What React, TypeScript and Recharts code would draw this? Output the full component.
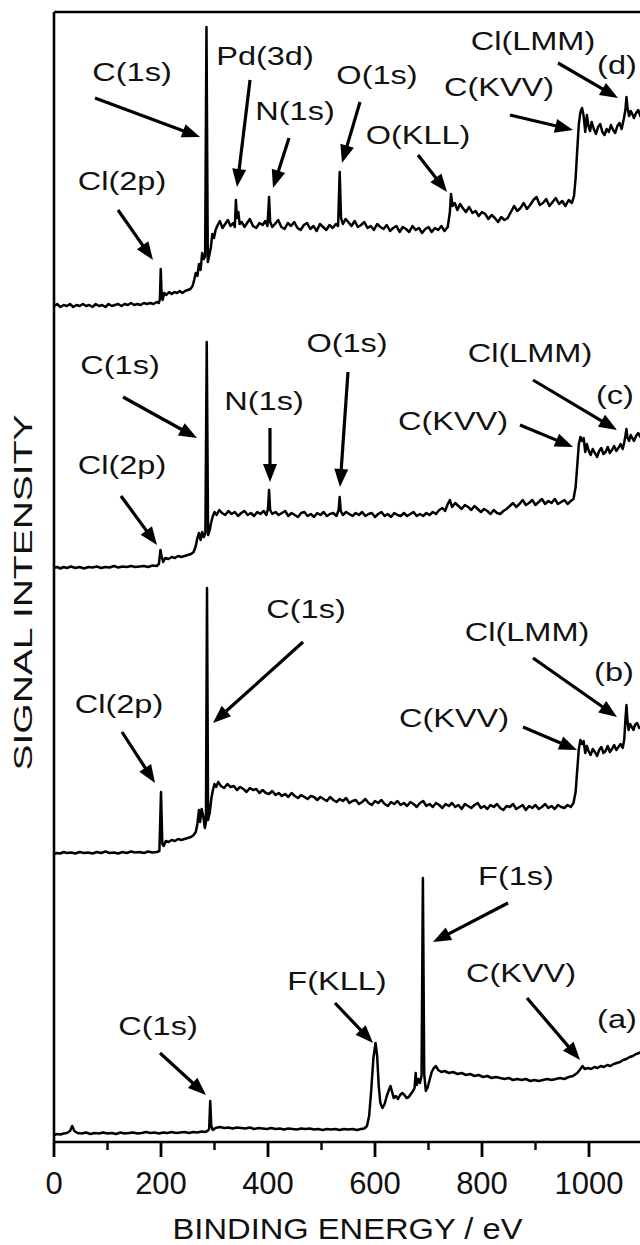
import { LineChart, Line, XAxis, YAxis, ReferenceLine, ReferenceDot, Label } from 'recharts';

// survey spectra, [binding energy (eV), signal]; each trace already carries its stacking offset
const traceA: [number, number][] = [
  [0, 0.7], [6, 0.8], [12, 0.75], [18, 0.85], [24, 0.9], [30, 1.1], [34, 1.6], [38, 1.1], [44, 0.9], [52, 0.85],
  [60, 0.95], [68, 0.8], [76, 0.9], [84, 0.85], [92, 0.95], [100, 0.85], [108, 0.9], [116, 0.8], [124, 0.95], [132, 0.85],
  [140, 0.9], [148, 0.95], [156, 0.85], [164, 0.9], [172, 1.0], [180, 0.9], [188, 0.95], [196, 0.85], [204, 0.95], [212, 0.9],
  [220, 1.0], [228, 0.9], [236, 0.95], [244, 1.0], [252, 0.9], [260, 1.0], [268, 0.95], [276, 1.05], [282, 1.0], [287, 1.1],
  [290, 1.3], [292, 4.1], [294, 1.6], [297, 1.2], [302, 1.4], [310, 1.5], [318, 1.4], [326, 1.45], [334, 1.35], [342, 1.45],
  [350, 1.4], [358, 1.35], [366, 1.45], [374, 1.3], [382, 1.4], [390, 1.35], [398, 1.3], [406, 1.4], [414, 1.3], [422, 1.35],
  [430, 1.25], [438, 1.35], [446, 1.3], [454, 1.25], [462, 1.35], [470, 1.3], [478, 1.35], [486, 1.25], [494, 1.3], [502, 1.2],
  [510, 1.3], [518, 1.25], [526, 1.3], [534, 1.2], [542, 1.3], [550, 1.25], [558, 1.3], [566, 1.2], [574, 1.3], [580, 1.35],
  [585, 1.6], [589, 2.6], [593, 5.2], [597, 8.4], [601, 9.9], [604, 8.6], [607, 5.6], [610, 3.9], [614, 3.4], [618, 3.8],
  [622, 4.6], [626, 5.2], [629, 5.6], [632, 5.0], [635, 4.4], [639, 4.6], [643, 4.3], [647, 4.7], [651, 4.9], [655, 4.7],
  [659, 4.4], [663, 4.5], [667, 4.8], [671, 5.1], [674, 5.4], [676, 6.9], [678, 5.7], [681, 6.3], [684, 5.9], [687, 6.6],
  [689.5, 26.4], [692, 6.8], [695, 5.1], [698, 5.4], [702, 6.2], [706, 7.0], [710, 7.4], [714, 7.6], [718, 7.2], [724, 7.0],
  [730, 7.1], [738, 6.9], [746, 7.0], [754, 6.8], [762, 6.9], [770, 6.7], [778, 6.8], [786, 6.6], [794, 6.7], [802, 6.5],
  [810, 6.6], [818, 6.4], [826, 6.5], [834, 6.4], [842, 6.3], [850, 6.4], [858, 6.2], [866, 6.3], [874, 6.2], [882, 6.3],
  [890, 6.1], [898, 6.2], [906, 6.1], [914, 6.2], [922, 6.3], [930, 6.2], [938, 6.3], [946, 6.4], [954, 6.3], [962, 6.5],
  [970, 6.6], [978, 6.9], [984, 7.3], [988, 7.6], [992, 7.3], [998, 7.4], [1004, 7.3], [1010, 7.5], [1016, 7.4], [1022, 7.6],
  [1028, 7.5], [1034, 7.7], [1040, 7.6], [1046, 7.8], [1052, 7.9], [1058, 8.0], [1064, 8.2], [1070, 8.3], [1076, 8.5], [1082, 8.6],
  [1088, 8.8], [1094, 8.9], [1100, 9.1],
];

const traceB: [number, number][] = [
  [0, 28.8], [6, 28.9], [12, 28.85], [18, 29.0], [24, 28.9], [32, 28.95], [40, 28.85], [48, 29.0], [56, 28.9], [64, 28.95],
  [72, 28.85], [80, 29.0], [88, 28.9], [96, 29.05], [104, 28.9], [112, 28.95], [120, 28.85], [128, 29.0], [136, 28.9], [144, 29.05],
  [152, 28.95], [160, 29.0], [168, 28.9], [176, 29.05], [184, 28.95], [192, 29.0], [197, 29.1], [200, 35.0], [202.5, 29.8], [205, 29.6],
  [209, 30.1], [214, 30.0], [220, 30.2], [226, 30.1], [232, 30.3], [238, 30.2], [244, 30.3], [250, 30.4], [256, 30.5], [261, 30.7],
  [265, 31.0], [268, 31.8], [271, 33.2], [273, 32.0], [276, 33.3], [279, 32.6], [282, 31.4], [284, 32.0], [286, 55.4], [288, 32.2],
  [291, 32.9], [294, 34.3], [297, 35.2], [300, 35.8], [303, 35.5], [307, 36.0], [312, 35.6], [318, 35.4], [324, 35.8], [330, 35.5],
  [336, 35.6], [342, 35.2], [348, 35.5], [354, 35.3], [360, 35.0], [366, 35.4], [372, 35.2], [378, 35.3], [384, 34.9], [390, 35.2],
  [396, 34.9], [402, 34.8], [408, 35.1], [414, 34.7], [420, 34.9], [426, 34.6], [432, 34.8], [438, 34.5], [444, 34.9], [450, 34.6],
  [456, 34.4], [462, 34.7], [468, 34.5], [474, 34.3], [480, 34.6], [486, 34.5], [492, 34.2], [498, 34.5], [504, 34.3], [510, 34.1],
  [516, 34.5], [522, 34.2], [528, 34.0], [534, 34.3], [540, 34.1], [546, 34.4], [552, 33.9], [558, 34.1], [564, 34.2], [570, 33.8],
  [576, 34.0], [582, 34.3], [588, 33.9], [594, 33.7], [600, 34.1], [606, 33.9], [612, 34.2], [618, 33.8], [624, 33.6], [630, 34.0],
  [636, 33.8], [642, 34.1], [648, 33.7], [654, 33.9], [660, 33.6], [666, 34.0], [672, 33.8], [678, 33.5], [684, 33.9], [690, 34.1],
  [696, 33.6], [702, 33.8], [708, 33.5], [714, 33.9], [720, 33.7], [726, 33.4], [732, 33.8], [738, 33.6], [744, 33.9], [750, 33.5],
  [756, 33.7], [762, 33.3], [768, 33.8], [774, 33.6], [780, 33.4], [786, 33.7], [792, 33.9], [798, 33.4], [804, 33.6], [810, 33.3],
  [816, 33.7], [822, 33.5], [828, 33.8], [834, 33.4], [840, 33.2], [846, 33.6], [852, 33.5], [858, 33.8], [864, 33.3], [870, 33.5],
  [876, 33.7], [882, 33.2], [888, 33.6], [894, 33.4], [900, 33.7], [906, 33.3], [912, 33.5], [918, 33.8], [924, 33.4], [930, 33.6],
  [936, 33.3], [942, 33.7], [948, 33.5], [954, 33.4], [960, 33.7], [966, 33.5], [971, 33.9], [975, 35.0], [978, 37.2], [981, 39.3],
  [984, 40.2], [987, 39.8], [990, 40.1], [993, 38.9], [996, 39.6], [999, 39.1], [1003, 38.7], [1007, 39.3], [1011, 39.0], [1015, 38.6],
  [1019, 39.2], [1023, 39.5], [1027, 38.9], [1031, 39.1], [1035, 39.6], [1039, 39.0], [1043, 39.3], [1047, 39.7], [1051, 39.2], [1055, 39.5],
  [1059, 39.8], [1063, 39.4], [1066, 40.3], [1068, 42.2], [1070, 43.7], [1072, 42.0], [1074, 41.2], [1077, 41.8], [1080, 41.5], [1083, 41.2],
  [1086, 41.7], [1090, 41.9], [1094, 41.4], [1100, 41.7],
];

const traceC: [number, number][] = [
  [0, 57.4], [6, 57.5], [12, 57.35], [18, 57.5], [24, 57.4], [32, 57.55], [40, 57.4], [48, 57.5], [56, 57.35], [64, 57.5],
  [72, 57.45], [80, 57.55], [88, 57.4], [96, 57.5], [104, 57.45], [112, 57.6], [120, 57.45], [128, 57.55], [136, 57.5], [144, 57.6],
  [152, 57.5], [160, 57.55], [168, 57.6], [176, 57.5], [184, 57.65], [192, 57.6], [196, 57.8], [199, 59.2], [201, 58.6], [204, 58.0],
  [208, 58.4], [214, 58.3], [220, 58.5], [226, 58.4], [232, 58.6], [238, 58.5], [244, 58.6], [250, 58.7], [256, 58.8], [261, 59.0],
  [265, 59.6], [268, 60.4], [271, 60.9], [274, 60.2], [277, 61.0], [280, 60.5], [283, 60.9], [285.5, 80.0], [288, 60.7], [291, 61.2],
  [294, 62.0], [297, 62.6], [300, 63.0], [304, 62.7], [309, 63.2], [314, 62.9], [320, 62.7], [326, 63.1], [332, 62.8], [338, 63.0],
  [344, 62.6], [350, 62.9], [356, 63.1], [362, 62.7], [368, 62.9], [374, 62.6], [380, 63.0], [386, 62.8], [392, 63.1], [397, 62.7],
  [400, 63.3], [402, 65.2], [404, 63.2], [408, 62.8], [414, 63.0], [420, 62.7], [426, 62.9], [432, 63.1], [438, 62.6], [444, 62.9],
  [450, 62.7], [456, 62.5], [462, 62.9], [468, 63.0], [474, 62.6], [480, 62.8], [486, 62.5], [492, 62.9], [498, 62.7], [504, 63.0],
  [510, 62.6], [516, 62.8], [522, 62.9], [528, 62.6], [532, 63.2], [534, 64.5], [536, 63.1], [540, 62.7], [546, 63.0], [552, 62.8],
  [558, 62.6], [564, 62.9], [570, 62.7], [576, 63.0], [582, 62.6], [588, 62.8], [594, 62.9], [600, 62.5], [606, 62.8], [612, 63.0],
  [618, 62.6], [624, 62.8], [630, 62.5], [636, 62.9], [642, 62.7], [648, 62.6], [654, 62.9], [660, 62.6], [666, 62.8], [672, 63.0],
  [678, 62.6], [684, 62.8], [690, 62.6], [696, 62.9], [702, 62.7], [708, 63.0], [714, 62.8], [720, 63.2], [726, 63.4], [731, 63.1],
  [736, 63.8], [740, 64.2], [744, 63.5], [750, 63.9], [756, 63.6], [762, 63.3], [768, 63.7], [774, 63.5], [780, 63.2], [786, 63.6],
  [792, 63.3], [798, 63.0], [804, 63.3], [810, 63.1], [816, 62.8], [822, 63.2], [828, 62.9], [834, 62.8], [840, 63.1], [846, 63.3],
  [852, 63.6], [858, 63.9], [864, 63.5], [870, 63.8], [876, 64.2], [882, 63.7], [888, 63.9], [894, 64.2], [900, 63.7], [906, 64.0],
  [912, 64.3], [918, 63.8], [924, 64.1], [930, 63.9], [936, 64.3], [942, 63.8], [948, 64.0], [954, 64.2], [960, 63.8], [966, 64.1],
  [971, 64.3], [975, 65.5], [978, 67.6], [981, 69.8], [984, 70.5], [987, 70.1], [990, 70.4], [993, 69.0], [996, 69.8], [999, 69.2],
  [1003, 68.7], [1007, 69.3], [1011, 68.9], [1015, 68.5], [1019, 69.1], [1023, 69.4], [1027, 68.8], [1031, 69.0], [1035, 69.5], [1039, 68.9],
  [1043, 69.2], [1047, 69.6], [1051, 69.1], [1055, 69.4], [1059, 69.8], [1063, 69.3], [1066, 70.0], [1068, 70.6], [1070, 71.3], [1072, 70.4],
  [1075, 70.1], [1078, 70.7], [1081, 70.4], [1084, 70.1], [1088, 70.6], [1092, 70.9], [1096, 70.5], [1100, 70.9],
];

const traceD: [number, number][] = [
  [0, 83.6], [6, 83.8], [12, 83.5], [18, 83.7], [24, 83.6], [30, 83.8], [36, 83.5], [42, 83.7], [48, 83.6], [54, 83.8],
  [60, 83.6], [66, 83.7], [72, 83.5], [78, 83.8], [84, 83.6], [90, 83.7], [96, 83.5], [102, 83.8], [108, 83.6], [114, 83.7],
  [120, 83.8], [126, 83.6], [132, 83.8], [138, 83.7], [144, 83.9], [150, 83.7], [156, 83.8], [162, 83.7], [168, 83.9], [174, 83.8],
  [180, 83.9], [186, 83.8], [192, 84.0], [196, 83.9], [198, 84.3], [199.5, 87.3], [201, 85.0], [203, 84.2], [206, 84.9], [210, 84.7],
  [215, 85.0], [220, 84.8], [225, 85.0], [230, 84.9], [235, 85.1], [240, 84.9], [245, 85.1], [250, 85.2], [255, 85.3], [259, 85.6],
  [262, 86.2], [265, 86.9], [268, 86.6], [271, 87.8], [274, 87.2], [277, 88.9], [280, 88.3], [282.5, 88.6], [285, 111.5], [287.5, 88.0],
  [290, 88.6], [293, 89.4], [296, 90.8], [299, 90.4], [302, 91.2], [306, 91.7], [310, 92.1], [315, 91.4], [320, 91.8], [325, 92.2],
  [330, 91.6], [335, 91.9], [338, 91.5], [340, 94.2], [342, 92.4], [344.5, 93.0], [347, 91.8], [351, 92.0], [356, 91.5], [361, 91.9],
  [366, 92.3], [372, 91.6], [378, 91.4], [384, 91.9], [390, 91.7], [395, 92.1], [399, 91.6], [402, 94.5], [404, 92.0], [408, 91.5],
  [413, 91.8], [419, 92.2], [425, 91.5], [431, 91.3], [437, 91.9], [443, 91.6], [449, 92.0], [455, 91.4], [461, 91.2], [467, 91.7],
  [473, 91.9], [479, 91.3], [485, 91.6], [491, 91.1], [497, 91.8], [503, 91.5], [509, 91.2], [515, 91.7], [521, 91.4], [527, 91.8],
  [531, 91.6], [534, 97.0], [536.5, 92.4], [540, 91.8], [545, 92.3], [550, 92.0], [556, 91.6], [562, 92.1], [568, 91.5], [574, 91.7],
  [580, 92.0], [586, 91.4], [592, 91.6], [598, 91.2], [604, 91.8], [610, 91.5], [616, 91.3], [622, 91.7], [628, 91.1], [634, 91.4],
  [640, 91.6], [646, 91.0], [652, 91.5], [658, 91.3], [664, 91.0], [670, 91.6], [676, 91.2], [682, 91.4], [688, 90.9], [694, 91.3],
  [700, 91.5], [706, 91.0], [712, 91.4], [718, 91.2], [724, 91.6], [730, 91.1], [736, 91.5], [740, 93.0], [742, 94.8], [745, 93.6],
  [749, 93.9], [754, 93.2], [759, 93.8], [764, 93.4], [770, 93.0], [776, 93.5], [782, 92.9], [788, 93.1], [794, 92.6], [800, 93.0],
  [806, 92.8], [812, 92.3], [818, 92.7], [824, 92.4], [830, 92.0], [836, 92.5], [842, 92.2], [848, 92.4], [854, 93.0], [860, 93.6],
  [866, 93.1], [872, 93.4], [878, 93.9], [884, 93.3], [890, 93.7], [896, 94.2], [902, 94.5], [908, 93.7], [914, 93.9], [920, 94.3],
  [926, 93.6], [932, 94.0], [938, 94.4], [944, 93.8], [950, 94.1], [956, 93.6], [962, 94.2], [968, 93.9], [972, 94.6], [975, 96.4],
  [978, 99.2], [981, 101.8], [984, 103.0], [987, 103.4], [990, 102.6], [993, 101.0], [996, 102.7], [999, 101.6], [1002, 101.1], [1005, 102.0],
  [1009, 101.3], [1013, 100.8], [1017, 101.5], [1021, 101.8], [1025, 101.0], [1029, 100.7], [1033, 101.3], [1037, 101.0], [1041, 101.7], [1045, 101.2],
  [1049, 100.9], [1053, 101.6], [1057, 101.9], [1061, 101.3], [1065, 102.3], [1068, 103.2], [1070, 104.5], [1072, 103.4], [1075, 102.6], [1078, 103.1],
  [1081, 102.8], [1084, 102.4], [1088, 102.9], [1092, 103.2], [1096, 102.6], [1100, 103.0],
];

const energyTicks = [0, 100, 200, 300, 400, 500, 600, 700, 800, 900, 1000];

// peak labels: [text, energy, signal] (centre of the text)
const peakLabels: [string, number, number][] = [
  ['C(1s)', 145.8, 106.8], ['Pd(3d)', 394.4, 108.4], ['N(1s)', 450.5, 102.9], ['O(1s)', 603.7, 106.5],
  ['O(KLL)', 680.4, 100.5], ['C(KVV)', 831.8, 105.3], ['Cl(LMM)', 895.3, 109.9], ['(d)', 1052.3, 107.5],
  ['Cl(2p)', 127.1, 95.9],
  ['C(1s)', 123.4, 77.5], ['Cl(2p)', 127.1, 67.5], ['N(1s)', 392.5, 73.9], ['O(1s)', 547.7, 79.7],
  ['C(KVV)', 745.8, 71.9], ['Cl(LMM)', 889.7, 78.7], ['(c)', 1048.6, 74.5],
  ['Cl(2p)', 121.5, 43.6], ['C(1s)', 471.0, 53.1], ['C(KVV)', 747.7, 42.2], ['Cl(LMM)', 884.1, 50.8], ['(b)', 1046.7, 46.8],
  ['C(1s)', 194.4, 11.4], ['F(KLL)', 529.0, 15.9], ['F(1s)', 863.6, 26.4], ['C(KVV)', 872.9, 16.7], ['(a)', 1052.3, 12.1],
];

// arrows: [energy from, signal from, energy to, signal to]
const arrows: [number, number, number, number][] = [
  [76.6, 104.4, 272.9, 100.5], [366.4, 106.2, 342.1, 95.5], [439.3, 100.4, 409.3, 95.4], [572.0, 104.0, 538.3, 97.9],
  [680.4, 98.7, 734.6, 95.0], [852.3, 102.7, 970.1, 101.2], [942.1, 107.9, 1054.2, 104.4], [119.6, 93.2, 185.0, 88.2],
  [129.0, 74.5, 267.3, 70.4], [125.2, 64.6, 192.5, 59.7], [403.7, 71.4, 403.7, 66.0], [549.5, 77.0, 534.6, 65.5],
  [871.0, 71.7, 970.1, 69.5], [895.3, 76.2, 1052.3, 71.2],
  [127.1, 41.0, 188.8, 35.9], [465.4, 50.0, 297.2, 41.9], [876.6, 41.5, 977.6, 39.2], [895.3, 48.4, 1052.3, 42.5],
  [198.1, 8.9, 284.1, 4.7], [525.2, 13.9, 596.3, 9.9], [848.6, 23.9, 708.4, 20.0], [884.1, 14.4, 983.2, 8.2],
];

const FONT = '"Liberation Sans", Arial, Helvetica, sans-serif';
const toPoints = (t: [number, number][]) => t.map(([e, v]) => ({ e, v }));
const traces = [traceA, traceB, traceC, traceD].map(toPoints);

function EnergyTick({ x, y, payload }: any) {
  const major = payload.value % 200 === 0;
  return (
    <g>
      <line x1={x} y1={y} x2={x} y2={y + (major ? 15 : 8)} stroke="#000" strokeWidth={major ? 2.8 : 2.4} />
      {major && (
        <text x={x} y={y + 30} dy="0.71em" textAnchor="middle" fontSize={31} fontFamily={FONT} fill="#111">
          {payload.value}
        </text>
      )}
    </g>
  );
}

function Arrow({ x1, y1, x2, y2 }: any) {
  const dx = x2 - x1;
  const dy = y2 - y1;
  const len = Math.hypot(dx, dy) || 1;
  const ux = dx / len;
  const uy = dy / len;
  const hl = 18;
  const hw = 7;
  const bx = x2 - ux * hl;
  const by = y2 - uy * hl;
  const pts = `${x2},${y2} ${bx - uy * hw},${by + ux * hw} ${bx + uy * hw},${by - ux * hw}`;
  return (
    <g>
      <line x1={x1} y1={y1} x2={bx + ux * 2} y2={by + uy * 2} stroke="#000" strokeWidth={3.2} />
      <polygon points={pts} fill="#000" />
    </g>
  );
}

function PeakText({ cx, cy, text }: any) {
  return (
    <text
      transform={`translate(${cx},${cy}) scale(1.25,1)`}
      dy="0.27em"
      textAnchor="middle"
      fontSize={26}
      fontFamily={FONT}
      fill="#111"
    >
      {text}
    </text>
  );
}

export default function App() {
  return (
    <div style={{ position: 'absolute', left: 0, top: 0, width: 640, height: 1245, overflow: 'hidden', background: '#fff' }}>
      <LineChart width={660} height={1245} margin={{ top: 12, right: 17.5, bottom: 43, left: 0 }}>
        <XAxis
          type="number"
          dataKey="e"
          domain={[0, 1100]}
          ticks={energyTicks}
          interval={0}
          height={60}
          tickSize={0}
          tickMargin={0}
          tickLine={false}
          tick={<EnergyTick />}
          axisLine={{ stroke: '#000', strokeWidth: 2.6 }}
        >
          <Label
            content={() => (
              <text
                transform="translate(347.5,1239) scale(1.09,1)"
                textAnchor="middle"
                fontSize={30}
                fontFamily={FONT}
                fill="#111"
              >
                BINDING ENERGY / eV
              </text>
            )}
          />
        </XAxis>
        <YAxis
          type="number"
          domain={[0, 113]}
          width={54}
          tick={false}
          tickLine={false}
          axisLine={{ stroke: '#000', strokeWidth: 2.6 }}
        >
          <Label
            content={() => (
              <text
                transform="translate(22.5,592.5) rotate(-90) scale(1.5,1)"
                dy="0.36em"
                textAnchor="middle"
                fontSize={26}
                fontFamily={FONT}
                fill="#111"
              >
                SIGNAL INTENSITY
              </text>
            )}
          />
        </YAxis>
        <ReferenceLine y={113} stroke="#000" strokeWidth={2.6} />
        {traces.map((pts, i) => (
          <Line
            key={i}
            data={pts}
            dataKey="v"
            type="linear"
            stroke="#000"
            strokeWidth={2.5}
            strokeLinejoin="round"
            dot={false}
            activeDot={false}
            isAnimationActive={false}
          />
        ))}
        {arrows.map(([e1, v1, e2, v2], i) => (
          <ReferenceLine
            key={`a${i}`}
            segment={[{ x: e1, y: v1 }, { x: e2, y: v2 }]}
            shape={(p: any) => <Arrow {...p} />}
          />
        ))}
        {peakLabels.map(([text, e, v], i) => (
          <ReferenceDot
            key={`t${i}`}
            x={e}
            y={v}
            r={0}
            shape={(p: any) => <PeakText cx={p.cx} cy={p.cy} text={text} />}
          />
        ))}
      </LineChart>
    </div>
  );
}
